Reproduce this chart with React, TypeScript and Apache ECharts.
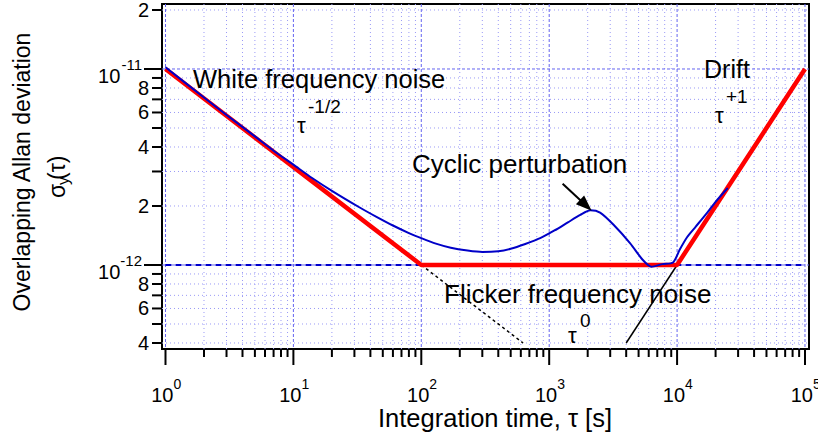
import React, { useEffect, useRef } from "react";
import * as echarts from "echarts";

const FONT = '"Liberation Sans", Arial, Helvetica, sans-serif';

// axis extents (frame slightly wider than 1 .. 1e5)
const X_MIN = 0.939;
const X_MAX = 107500;
const Y_MIN = 3.727e-13;
const Y_MAX = 2.146e-11;

// tick values and labels
const xDecadeTicks = [1, 10, 100, 1000, 10000, 100000];
const xDecadeExp = ["0", "1", "2", "3", "4", "5"];
const xMinorTicks = [
  2, 3, 4, 5, 6, 7, 8, 9,
  20, 30, 40, 50, 60, 70, 80, 90,
  200, 300, 400, 500, 600, 700, 800, 900,
  2000, 3000, 4000, 5000, 6000, 7000, 8000, 9000,
  20000, 30000, 40000, 50000, 60000, 70000, 80000, 90000,
];
const yDecadeTicks = [1e-12, 1e-11];
const yDecadeExp = ["-12", "-11"];
const yMinorTicks = [
  4e-13, 5e-13, 6e-13, 7e-13, 8e-13, 9e-13,
  2e-12, 3e-12, 4e-12, 5e-12, 6e-12, 7e-12, 8e-12, 9e-12,
  2e-11,
];
const yMinorLabels = ["4", "", "6", "", "8", "", "2", "", "4", "", "6", "", "8", "", "2"];

// asymptotes (red): white FM tau^-1/2, flicker floor, drift tau^+1
const asymTau = [1, 100, 10000, 100000];
const asymSigma = [1e-11, 1e-12, 1e-12, 1e-11];

// flicker floor (blue dashed)
const floorTau = [1, 100000];
const floorSigma = [1e-12, 1e-12];

// extrapolated white-noise line (black dotted)
const whiteExtTau = [100, 625];
const whiteExtSigma = [1e-12, 4e-13];

// extrapolated drift line (black solid)
const driftExtTau = [4000, 10000];
const driftExtSigma = [4e-13, 1e-12];

// measured overlapping Allan deviation (blue), sigma in units of 1e-12
const measTau = [
  1, 2, 3, 5, 7, 10, 14, 20, 33, 45, 60, 80, 100, 130, 170, 230, 300, 400, 500,
  650, 850, 1100, 1400, 1750, 2100, 2500, 3200, 4300, 5400, 6300, 7700, 9300,
  10500, 12000, 14000, 17100, 20000, 24900,
];
const measSigmaE12 = [
  10.2, 7.15, 5.83, 4.53, 3.83, 3.25, 2.78, 2.39, 1.965, 1.755, 1.59, 1.455, 1.37,
  1.285, 1.225, 1.185, 1.165, 1.175, 1.21, 1.28, 1.37, 1.5, 1.65, 1.8, 1.9, 1.85, 1.6,
  1.29, 1.06, 0.98, 1.01, 1.03, 1.2, 1.39, 1.57, 1.84, 2.1, 2.47,
];

// arrow pointing at the cyclic perturbation bump: [tau, sigma]
const arrowTail = [1274, 2.6e-12];
const arrowTip = [2150, 1.89e-12];

const pair = (xs: number[], ys: number[]) => xs.map((x, i) => [x, ys[i]]);

function txt(text: string, x: number, y: number, size: number, align = "left", extra: any = {}) {
  return {
    type: "text",
    x,
    y,
    z: 20,
    ...extra,
    style: {
      text,
      fontSize: size,
      fontFamily: FONT,
      fill: "#000",
      textAlign: align,
      textVerticalAlign: "middle",
    },
  };
}

export default function App() {
  const ref = useRef<HTMLDivElement>(null);

  useEffect(() => {
    const el = ref.current!;
    const chart = echarts.init(el, null, { renderer: "svg" });

    const xGridData = [
      ...xDecadeTicks.map((v, i) => [v, 1e-12, 1, i]),
      ...xMinorTicks.map((v, i) => [v, 1e-12, 0, i]),
    ];
    const yGridData = [
      ...yDecadeTicks.map((v, i) => [1, v, 1, i]),
      ...yMinorTicks.map((v, i) => [1, v, 0, i]),
    ];

    const hiddenAxis = {
      axisLine: { show: false },
      axisTick: { show: false },
      axisLabel: { show: false },
      splitLine: { show: false },
      minorTick: { show: false },
    };

    const option: any = {
      animation: false,
      backgroundColor: "#fff",
      grid: {
        left: 162,
        top: 4,
        right: 9,
        bottom: 87,
        show: true,
        borderColor: "#000",
        borderWidth: 2,
        backgroundColor: "#fff",
      },
      xAxis: { type: "log", logBase: 10, min: X_MIN, max: X_MAX, ...hiddenAxis },
      yAxis: { type: "log", logBase: 10, min: Y_MIN, max: Y_MAX, ...hiddenAxis },
      series: [
        {
          type: "custom",
          name: "xgrid",
          coordinateSystem: "cartesian2d",
          silent: true,
          z: 1,
          data: xGridData,
          renderItem: (params: any, api: any) => {
            const v = api.value(0);
            const dec = api.value(2) === 1;
            const idx = api.value(3);
            const px = api.coord([v, 1e-12])[0];
            const cs = params.coordSys;
            const top = cs.y;
            const bottom = cs.y + cs.height;
            const children: any[] = [
              {
                type: "line",
                shape: { x1: px, y1: top, x2: px, y2: bottom },
                style: { stroke: dec ? "#6464f0" : "#9a9af6", lineWidth: 1, lineDash: dec ? [3, 2] : [1, 3] },
              },
              {
                type: "line",
                shape: { x1: px, y1: bottom, x2: px, y2: bottom + (dec ? 16 : 8) },
                style: { stroke: "#000", lineWidth: 2 },
              },
            ];
            if (dec) {
              children.push({
                type: "text",
                x: px + 8,
                y: bottom + 46,
                style: { text: "10", fontSize: 20, fontFamily: FONT, fill: "#000", textAlign: "right", textVerticalAlign: "middle" },
              });
              children.push({
                type: "text",
                x: px + 8,
                y: bottom + 35,
                style: { text: xDecadeExp[idx], fontSize: 14, fontFamily: FONT, fill: "#000", textAlign: "left", textVerticalAlign: "middle" },
              });
            }
            return { type: "group", children };
          },
        },
        {
          type: "custom",
          name: "ygrid",
          coordinateSystem: "cartesian2d",
          silent: true,
          z: 1,
          data: yGridData,
          renderItem: (params: any, api: any) => {
            const v = api.value(1);
            const dec = api.value(2) === 1;
            const idx = api.value(3);
            const py = api.coord([1, v])[1];
            const cs = params.coordSys;
            const left = cs.x;
            const right = cs.x + cs.width;
            const children: any[] = [
              {
                type: "line",
                shape: { x1: left, y1: py, x2: right, y2: py },
                style: { stroke: dec ? "#6464f0" : "#9a9af6", lineWidth: 1, lineDash: dec ? [3, 2] : [1, 3] },
              },
              {
                type: "line",
                shape: { x1: left - (dec ? 18 : 10), y1: py, x2: left, y2: py },
                style: { stroke: "#000", lineWidth: 2 },
              },
            ];
            if (dec) {
              const sup = yDecadeExp[idx];
              const supW = 15 * (0.333 + 0.556 * (sup.length - 1));
              children.push({
                type: "text",
                x: left - 20,
                y: py - 4.5,
                style: { text: sup, fontSize: 15, fontFamily: FONT, fill: "#000", textAlign: "right", textVerticalAlign: "middle" },
              });
              children.push({
                type: "text",
                x: left - 20 - supW,
                y: py + 7,
                style: { text: "10", fontSize: 20, fontFamily: FONT, fill: "#000", textAlign: "right", textVerticalAlign: "middle" },
              });
            } else if (yMinorLabels[idx]) {
              children.push({
                type: "text",
                x: left - 13,
                y: py,
                style: { text: yMinorLabels[idx], fontSize: 20, fontFamily: FONT, fill: "#000", textAlign: "right", textVerticalAlign: "middle" },
              });
            }
            return { type: "group", children };
          },
        },
        {
          type: "line",
          name: "floor",
          data: pair(floorTau, floorSigma),
          showSymbol: false,
          symbol: "none",
          silent: true,
          z: 2,
          lineStyle: { color: "#0000cc", width: 2, type: [6, 4] },
        },
        {
          type: "line",
          name: "whiteExt",
          data: pair(whiteExtTau, whiteExtSigma),
          showSymbol: false,
          symbol: "none",
          silent: true,
          z: 3,
          lineStyle: { color: "#000", width: 1.5, type: [3, 3] },
        },
        {
          type: "line",
          name: "driftExt",
          data: pair(driftExtTau, driftExtSigma),
          showSymbol: false,
          symbol: "none",
          silent: true,
          z: 3,
          lineStyle: { color: "#000", width: 1.5 },
        },
        {
          type: "line",
          name: "asymptotes",
          data: pair(asymTau, asymSigma),
          showSymbol: false,
          symbol: "none",
          silent: true,
          z: 4,
          lineStyle: { color: "#ff0000", width: 4.5 },
        },
        {
          type: "line",
          name: "measured",
          data: pair(measTau, measSigmaE12.map((s) => s * 1e-12)),
          showSymbol: false,
          symbol: "none",
          smooth: 0.25,
          silent: true,
          z: 5,
          lineStyle: { color: "#0000c8", width: 2 },
        },
        {
          type: "custom",
          name: "arrow",
          coordinateSystem: "cartesian2d",
          silent: true,
          z: 6,
          encode: { x: [0, 2], y: [1, 3] },
          data: [[arrowTail[0], arrowTail[1], arrowTip[0], arrowTip[1]]],
          renderItem: (params: any, api: any) => {
            const p0 = api.coord([api.value(0), api.value(1)]);
            const p1 = api.coord([api.value(2), api.value(3)]);
            const dx = p1[0] - p0[0];
            const dy = p1[1] - p0[1];
            const L = Math.hypot(dx, dy);
            const ux = dx / L;
            const uy = dy / L;
            const hl = 16;
            const hw = 6;
            const bx = p1[0] - ux * hl;
            const by = p1[1] - uy * hl;
            return {
              type: "group",
              children: [
                { type: "line", shape: { x1: p0[0], y1: p0[1], x2: bx + ux * 2, y2: by + uy * 2 }, style: { stroke: "#000", lineWidth: 2 } },
                {
                  type: "polygon",
                  shape: { points: [[p1[0], p1[1]], [bx - uy * hw, by + ux * hw], [bx + uy * hw, by - ux * hw]] },
                  style: { fill: "#000" },
                },
              ],
            };
          },
        },
      ],
      graphic: [
        // axis titles
        txt("Integration time, τ [s]", 495, 418, 25.5, "center"),
        txt("Overlapping Allan deviation", 22, 172, 23, "center", { rotation: Math.PI / 2 }),
        {
          type: "group",
          x: 57,
          y: 172,
          rotation: Math.PI / 2,
          z: 20,
          children: [
            txt("σ", -26, 0, 23, "left"),
            txt("y", -13, 6, 16, "left"),
            txt("(τ)", -8, 0, 23, "left"),
          ],
        },
        // annotations
        txt("White frequency noise", 193, 79, 25.5),
        txt("τ", 297, 125.5, 22),
        txt("-1/2", 308, 106, 19),
        txt("Cyclic perturbation", 412, 163.5, 26),
        txt("Drift", 704, 69, 25),
        txt("τ", 715, 115.5, 22),
        txt("+1", 726, 96.5, 19),
        txt("Flicker frequency noise", 444, 294, 26),
        txt("τ", 568, 335, 22),
        txt("0", 580, 320, 19),
      ],
    };

    chart.setOption(option);
    return () => {
      chart.dispose();
    };
  }, []);

  return (
    <div
      ref={ref}
      style={{ position: "fixed", left: 0, top: 0, width: 818, height: 436, background: "#fff" }}
    />
  );
}
